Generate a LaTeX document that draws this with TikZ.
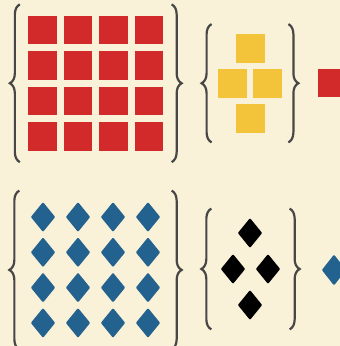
\documentclass[tikz,border=0pt]{standalone}
\usepackage{tikz}
\usetikzlibrary{positioning,fit,shapes.geometric,decorations.pathreplacing}
\definecolor{setred}{HTML}{D22A2A}
\definecolor{setyellow}{HTML}{F3C33A}
\definecolor{setblue}{HTML}{23618F}
\definecolor{setcream}{HTML}{F9F2D9}
\definecolor{bracegray}{HTML}{474747}

\begin{document}
\begin{tikzpicture}[x=1pt, y=-1pt,
   tile/.style={rectangle, inner sep=0pt, minimum size=28.5pt},
   gem/.style={diamond, inner sep=0pt, minimum width=24.5pt, minimum height=30pt,
               rounded corners=1pt},
   grp/.style={inner sep=0pt},
   brc/.style={draw=bracegray, line width=2.2pt, decorate,
               decoration={brace, amplitude=10pt}}]
  \clip (0,0) rectangle (340,346);
  \fill[setcream] (0,0) rectangle (340,346);
  % top row: 4x4 red tiles, four yellow tiles, one red tile
  \foreach \i in {1,...,4}
    \foreach \j in {1,...,4}
      \node[tile, fill=setred] (r-\i-\j) at ({42.5+35.5*(\j-1)}, {30+35.5*(\i-1)}) {};
  \node[grp, fit=(r-1-1)(r-4-4), inner xsep=8pt, inner ysep=11pt] (reds) {};
  \node[tile, fill=setyellow, minimum size=29pt] (y-top) at (250.5,48) {};
  \node[tile, fill=setyellow, minimum size=29pt] (y-left) at (232.5,83) {};
  \node[tile, fill=setyellow, minimum size=29pt] (y-right) at (267.5,83) {};
  \node[tile, fill=setyellow, minimum size=29pt] (y-bot) at (250.5,118.5) {};
  \node[grp, fit=(y-top)(y-left)(y-right)(y-bot), inner xsep=6pt, inner ysep=9pt] (yellows) {};
  \node[tile, fill=setred] (r-out) at (332,83) {};
  \draw[brc] (reds.south west) -- (reds.north west);
  \draw[brc] (reds.north east) -- (reds.south east);
  \draw[brc] (yellows.south west) -- (yellows.north west);
  \draw[brc] (yellows.north east) -- (yellows.south east);
  % bottom row: 4x4 blue diamonds, four black diamonds, one blue diamond
  \foreach \i in {1,...,4}
    \foreach \j in {1,...,4}
      \node[gem, fill=setblue] (b-\i-\j) at ({43+35*(\j-1)}, {217+35.3*(\i-1)}) {};
  \node[grp, fit=(b-1-1)(b-4-4), inner xsep=11pt, inner ysep=11pt] (blues) {};
  \node[gem, fill=black] (k-top) at (250,233) {};
  \node[gem, fill=black] (k-left) at (233,269) {};
  \node[gem, fill=black] (k-right) at (268,269) {};
  \node[gem, fill=black] (k-bot) at (250,305) {};
  \node[grp, fit=(k-top)(k-left)(k-right)(k-bot), inner xsep=9pt, inner ysep=9pt] (blacks) {};
  \node[gem, fill=setblue, minimum height=31pt] (b-out) at (334,270) {};
  \draw[brc] (blues.south west) -- (blues.north west);
  \draw[brc] (blues.north east) -- (blues.south east);
  \draw[brc] (blacks.south west) -- (blacks.north west);
  \draw[brc] (blacks.north east) -- (blacks.south east);
\end{tikzpicture}
\end{document}
